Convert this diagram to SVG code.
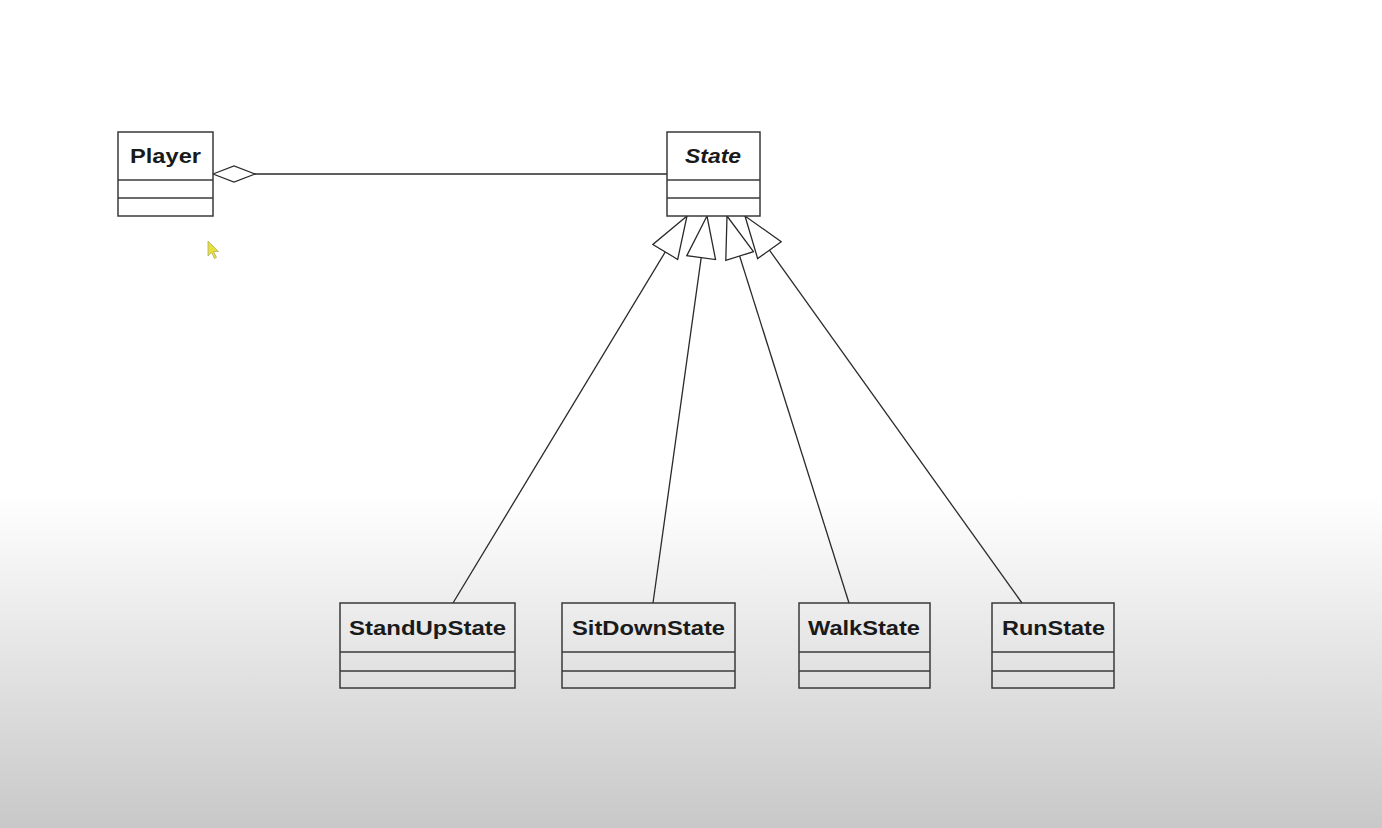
<svg xmlns="http://www.w3.org/2000/svg" width="1382" height="828" viewBox="0 0 1382 828">
<style>
.box{fill:none;stroke:#3a3a3a;stroke-width:1.5}
.div{stroke:#3a3a3a;stroke-width:1.5}
.lbl{font-family:"Liberation Sans",Arial,sans-serif;font-weight:bold;font-size:21px;fill:#1a1a1a}
.conn{stroke:#2a2a2a;stroke-width:1.3;fill:none}
</style>
<defs>
<linearGradient id="bg" gradientUnits="userSpaceOnUse" x1="0" y1="495" x2="0" y2="828">
<stop offset="0" stop-color="#ffffff"/>
<stop offset="1" stop-color="#c8c8c8"/>
</linearGradient>
<marker id="tri" markerUnits="userSpaceOnUse" viewBox="-1 -1 45 31" refX="42" refY="14.5" markerWidth="45" markerHeight="31" orient="auto">
<path d="M42,14.5 L0,0 L0,29 Z" fill="#ffffff" stroke="#2a2a2a" stroke-width="1.3"/>
</marker>
<marker id="dia" markerUnits="userSpaceOnUse" viewBox="-1 -1 44 18" refX="0" refY="8" markerWidth="44" markerHeight="18" orient="auto">
<path d="M0,8 L21,0 L42,8 L21,16 Z" fill="#ffffff" stroke="#2a2a2a" stroke-width="1.3"/>
</marker>
</defs>
<rect x="0" y="0" width="1382" height="828" fill="url(#bg)"/>

<g id="connectors">
<line class="conn" x1="213" y1="174" x2="667" y2="174" marker-start="url(#dia)"/>
<line class="conn" x1="453" y1="603" x2="687" y2="216" marker-end="url(#tri)"/>
<line class="conn" x1="653" y1="603" x2="707" y2="216" marker-end="url(#tri)"/>
<line class="conn" x1="849" y1="603" x2="727" y2="216" marker-end="url(#tri)"/>
<line class="conn" x1="1022" y1="603" x2="745" y2="216" marker-end="url(#tri)"/>
</g>

<g id="Player">
<rect class="box" x="118" y="132" width="95" height="84" fill="#fff" style="fill:#fff"/>
<line class="div" x1="118" y1="180" x2="213" y2="180"/>
<line class="div" x1="118" y1="198" x2="213" y2="198"/>
<text class="lbl" x="130" y="163" textLength="71" lengthAdjust="spacingAndGlyphs">Player</text>
</g>

<g id="State">
<rect class="box" x="667" y="132" width="93" height="84" style="fill:#fff"/>
<line class="div" x1="667" y1="180" x2="760" y2="180"/>
<line class="div" x1="667" y1="198" x2="760" y2="198"/>
<text class="lbl" x="685" y="163" font-style="italic" textLength="56" lengthAdjust="spacingAndGlyphs">State</text>
</g>

<g id="StandUpState">
<rect class="box" x="340" y="603" width="175" height="85"/>
<line class="div" x1="340" y1="652" x2="515" y2="652"/>
<line class="div" x1="340" y1="671" x2="515" y2="671"/>
<text class="lbl" x="349" y="635" textLength="157" lengthAdjust="spacingAndGlyphs">StandUpState</text>
</g>

<g id="SitDownState">
<rect class="box" x="562" y="603" width="173" height="85"/>
<line class="div" x1="562" y1="652" x2="735" y2="652"/>
<line class="div" x1="562" y1="671" x2="735" y2="671"/>
<text class="lbl" x="572" y="635" textLength="153" lengthAdjust="spacingAndGlyphs">SitDownState</text>
</g>

<g id="WalkState">
<rect class="box" x="799" y="603" width="131" height="85"/>
<line class="div" x1="799" y1="652" x2="930" y2="652"/>
<line class="div" x1="799" y1="671" x2="930" y2="671"/>
<text class="lbl" x="808" y="635" textLength="112" lengthAdjust="spacingAndGlyphs">WalkState</text>
</g>

<g id="RunState">
<rect class="box" x="992" y="603" width="122" height="85"/>
<line class="div" x1="992" y1="652" x2="1114" y2="652"/>
<line class="div" x1="992" y1="671" x2="1114" y2="671"/>
<text class="lbl" x="1002" y="635" textLength="103" lengthAdjust="spacingAndGlyphs">RunState</text>
</g>

<polygon points="208,241 208,256 211.5,252.5 214.5,258.5 216.5,257.5 213.5,251.5 218.5,251.5" fill="#e6df3c" stroke="#b0ad70" stroke-width="0.8"/>
</svg>
